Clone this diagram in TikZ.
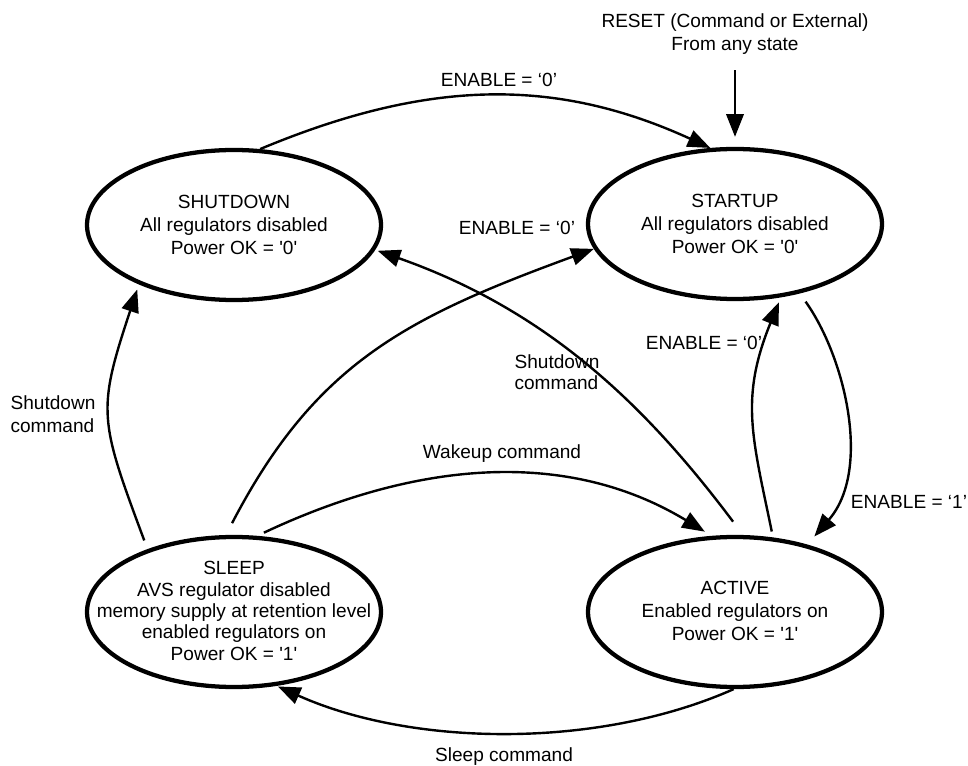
\documentclass[tikz,border=0pt]{standalone}
\usepackage{fontspec}
\setmainfont{Liberation Sans}
\usetikzlibrary{arrows.meta,shapes.geometric}
\begin{document}
\begin{tikzpicture}[x=0.75pt,y=-0.75pt,
  state/.style={draw, ellipse, line width=3.2pt, minimum width=220.5pt, minimum height=112.5pt, inner sep=0pt},
  txt/.style={font=\fontsize{14.3pt}{17.25pt}\selectfont, inner sep=0pt, align=center},
  tight/.style={font=\fontsize{14.3pt}{16pt}\selectfont},
  conn/.style={line width=1.8pt, -{Triangle[length=17pt,width=13pt]}}
]
\useasboundingbox (0,0) rectangle (968,766);
% states
\node[state] (sd) at (234,225) {};
\node[state] (su) at (735,224) {};
\node[state] (sl) at (234,612) {};
\node[state] (ac) at (735,612) {};
\node[txt] (sdt) at (234,225) {SHUTDOWN\\All regulators disabled\\Power OK = \textquotesingle0\textquotesingle};
\node[txt] (sut) at (735,224) {STARTUP\\All regulators disabled\\Power OK = \textquotesingle0\textquotesingle};
\node[txt,tight] (slt) at (234,611) {SLEEP\\AVS regulator disabled\\memory supply at retention level\\enabled regulators on\\Power OK = \textquotesingle1\textquotesingle};
\node[txt] (act) at (735,611) {ACTIVE\\Enabled regulators on\\Power OK = \textquotesingle1\textquotesingle};
% labels
\node[txt] (reset) at (735,34.5) {RESET (Command or External)\\From any state};
\node[txt] (l1) at (499,80) {ENABLE = ‘0’};
\node[txt] (l2) at (517,228) {ENABLE = ‘0’};
\node[txt] (l3) at (704,343) {ENABLE = ‘0’};
\node[txt] (l4) at (909,502) {ENABLE = ‘1’};
\node[txt,align=left] (l5) at (53,414) {Shutdown\\command};
\node[txt,tight,align=left] (l6) at (557,372) {Shutdown\\command};
\node[txt] (l7) at (502,454) {Wakeup command};
\node[txt] (l8) at (504,757) {Sleep command};
% connectors
\draw[conn] (sd.71) .. controls (428,79) and (555,77) .. (su.108);
\draw[conn, shorten <=11.5pt, shorten >=7.5pt] (reset) -- (su);
\draw[conn, shorten <=7.5pt, shorten >=8pt] (su.313) .. controls (845,357) and (872,470) .. (ac.43);
\draw[conn, shorten <=4.5pt, shorten >=4pt] (ac.63) .. controls (752,436) and (740,398) .. (su.302);
\draw[conn, shorten <=7pt, shorten >=4pt] (sl.144) .. controls (99,419) and (97,411) .. (sd.212);
\draw[conn, shorten <=10pt] (sl.96) .. controls (315,364) and (405,318) .. (su.190);
\draw[conn, shorten <=12.5pt, shorten >=2pt] (ac.84) .. controls (647,407) and (549,311) .. (sd.350);
\draw[conn, shorten <=5.5pt, shorten >=6pt] (sl.73) .. controls (414,462) and (565,447) .. (ac.107);
\draw[conn, shorten >=1pt] (ac.269) .. controls (599,749) and (413,747) .. (sl.300);
\end{tikzpicture}
\end{document}
